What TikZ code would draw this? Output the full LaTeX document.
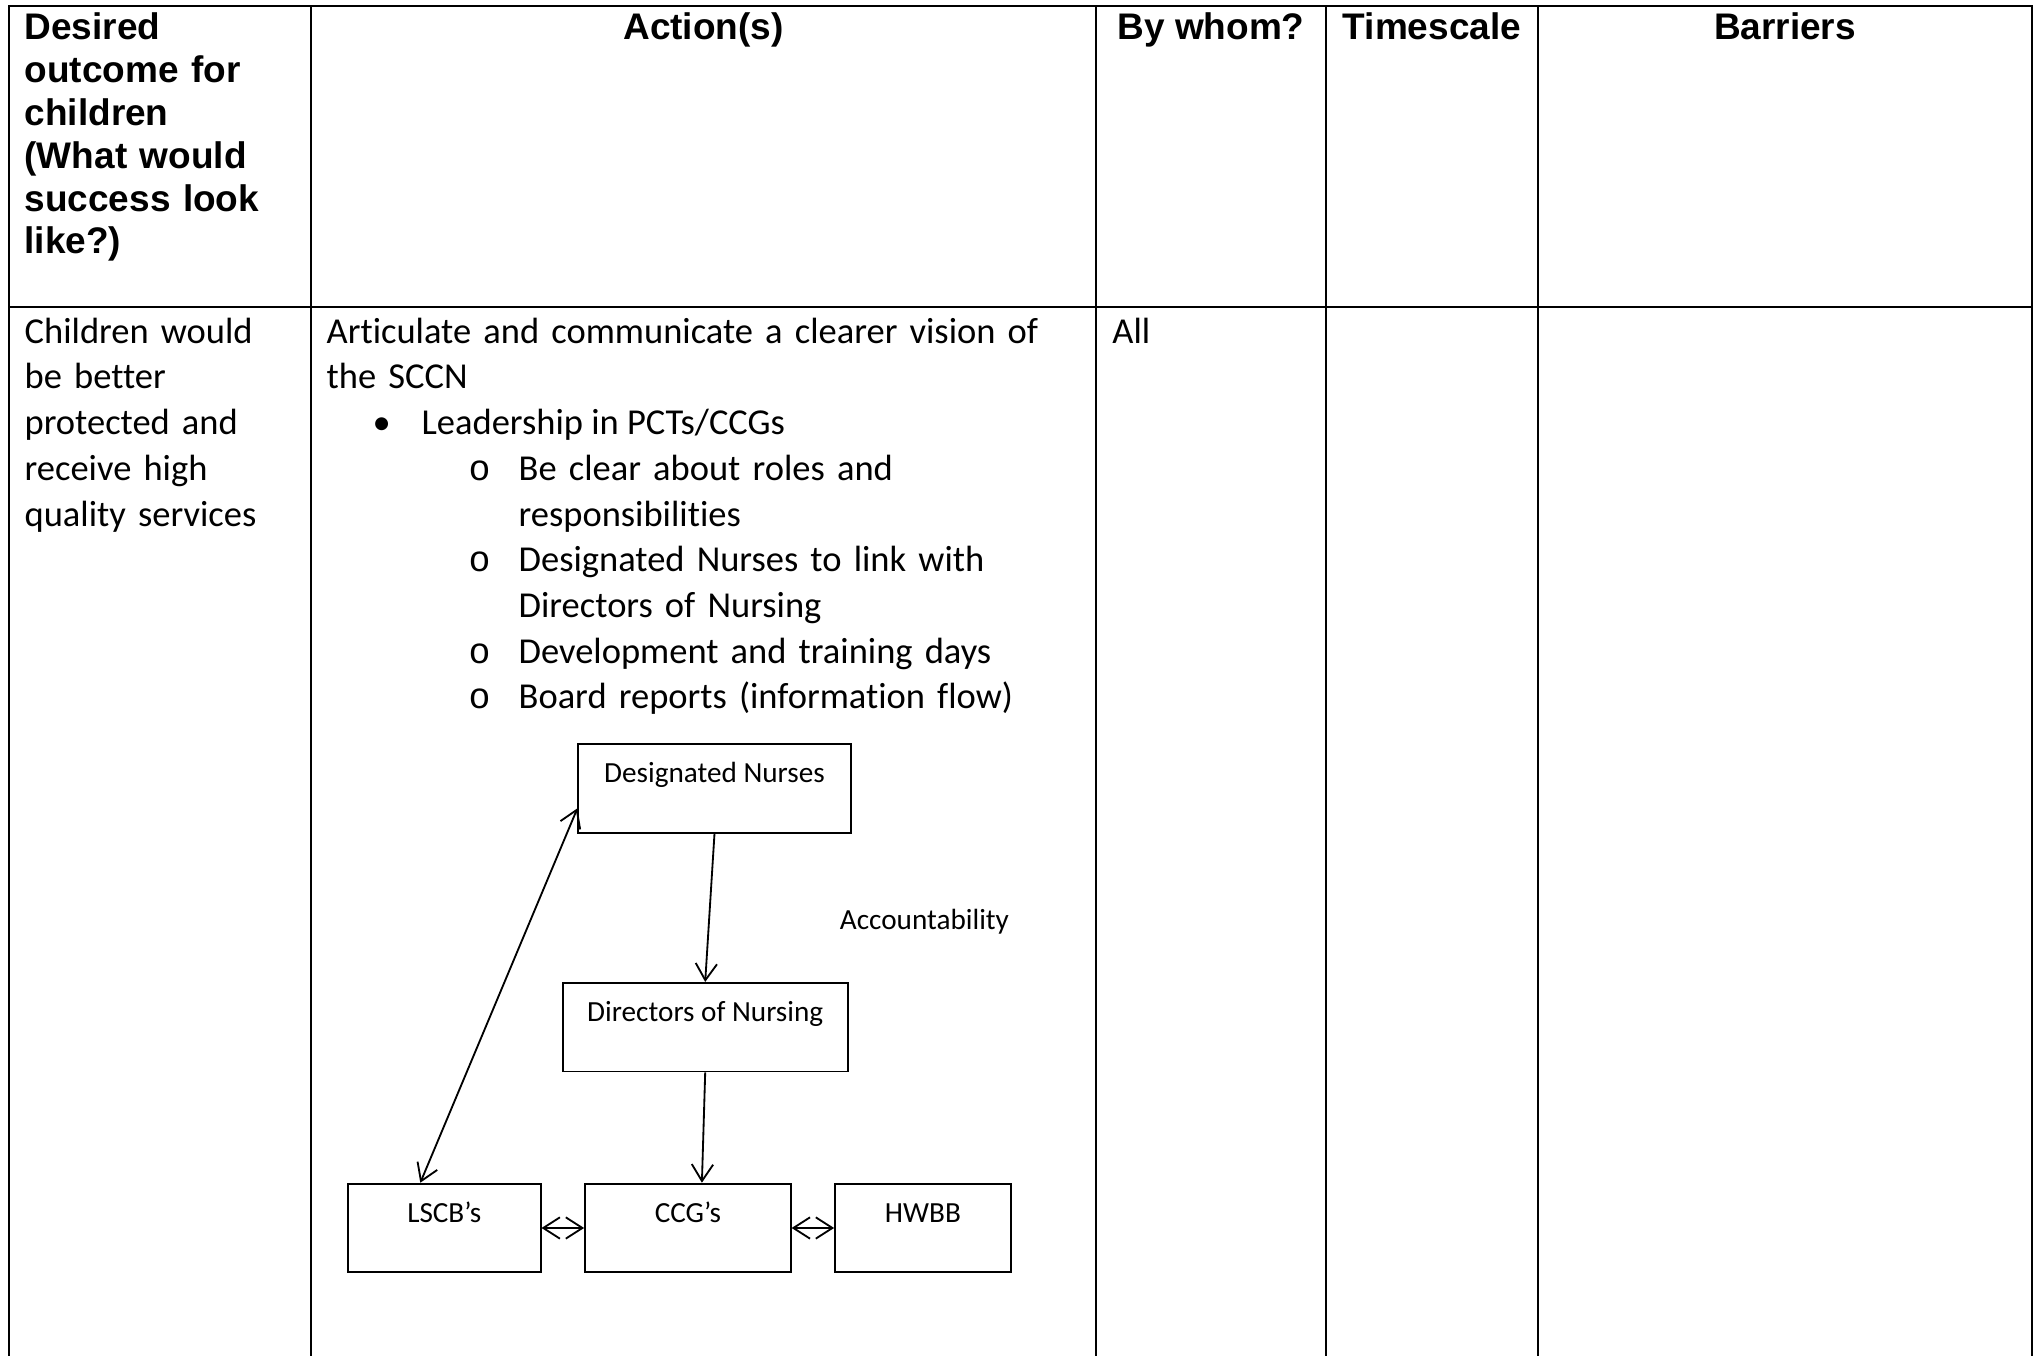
\documentclass[tikz,border=0pt]{standalone}
\usepackage{fontspec}
\setmainfont{Carlito}[Ligatures=CommonOff]
\newfontfamily\headfont{Liberation Sans}
\newfontfamily\listmark{Liberation Mono}
\usetikzlibrary{arrows.meta,calc}

\begin{document}
\begin{tikzpicture}[x=0.3pt,y=-0.3pt,>={Straight Barb[length=5pt,width=6.4pt]}]

    \tikzset{
      gridline/.style={line width=0.6pt},
      headtext/.style={font=\headfont\bfseries\fontsize{11.1}{12.84}\selectfont, inner sep=0pt},
      celltext/.style={font=\fontsize{10.95}{13.71}\selectfont, inner sep=0pt, anchor=base west, align=left},
      orgbox/.style={draw, line width=0.55pt, font=\fontsize{8.76}{10.7}\selectfont,
        text height=11.6pt, text depth=15pt, inner sep=0pt},
      link/.style={line width=0.55pt},
    }
    \useasboundingbox (0,0) rectangle (2034,1356);

    % table grid
    \draw[gridline] (9,1356) -- (9,6) -- (2032,6) -- (2032,1356);
    \draw[gridline] (9,307) -- (2032,307);
    \foreach \cx in {311,1096,1326,1538}
      \draw[gridline] (\cx,6) -- (\cx,1356);

    % header row
    \node[headtext, anchor=base west, align=left, text width=85pt] (hOutcome) at (24,40)
      {Desired\\outcome for\\children\\(What would\\success look\\like?)};
    \node[headtext, anchor=base] (hAction) at (703.5,40) {Action(s)};
    \node[headtext, anchor=base] (hWho) at (1211,40) {By whom?};
    \node[headtext, anchor=base] (hTime) at (1432,40) {Timescale};
    \node[headtext, anchor=base] (hBarrier) at (1785,40) {Barriers};

    % body row
    \node[celltext, text width=85pt] (outcome) at (24,343.3)
      {Children would\\be better\\protected and\\receive high\\quality services};
    \node[celltext, text width=230pt] (vision) at (326,343.3)
      {Articulate and communicate a clearer vision of\\the SCCN};
    \node[celltext] (bulletA) at (372,434.7) {•};
    \node[celltext] (leader) at (421,434.7) {Leadership in PCTs/CCGs};
    \foreach \k/\txt in {3/{Be clear about roles and\\responsibilities},
                         5/{Designated Nurses to link with\\Directors of Nursing},
                         7/{Development and training days},
                         8/{Board reports (information flow)}} {
      \node[celltext] (mark\k) at (468,343.3+\k*45.7) {\listmark o};
      \node[celltext, text width=200pt] (item\k) at (518,343.3+\k*45.7) {\txt};
    }
    \node[celltext] (who) at (1111.7,343.3) {All};

    % accountability chart
    \node[orgbox, minimum width=81.7pt, minimum height=26.6pt] (dn) at (714.5,788.3) {Designated Nurses};
    \node[orgbox, minimum width=85.5pt, minimum height=26.6pt] (don) at (705.2,1027.2) {Directors of Nursing};
    \node[orgbox, minimum width=57.8pt, minimum height=26.6pt] (lscb) at (444.3,1228) {LSCB’s};
    \node[orgbox, minimum width=61.7pt, minimum height=26.6pt] (ccg) at (687.9,1228) {CCG’s};
    \node[orgbox, minimum width=52.7pt, minimum height=26.6pt] (hwbb) at (922.9,1228) {HWBB};
    \node[font=\fontsize{8.76}{10.7}\selectfont, anchor=base west, inner sep=0pt] (acct) at (839.3,930) {Accountability};

    \draw[link,->] (dn.south) -- (don.north);
    \draw[link,->] (don.south) -- ($(ccg.north)+(14,0)$);
    \draw[link,<->] ($(lscb.north)+(-24,0)$) -- ($(dn.west)+(0,20)$);
    \draw[link,<->] (lscb.east) -- (ccg.west);
    \draw[link,<->] (ccg.east) -- (hwbb.west);

\end{tikzpicture}
\end{document}
